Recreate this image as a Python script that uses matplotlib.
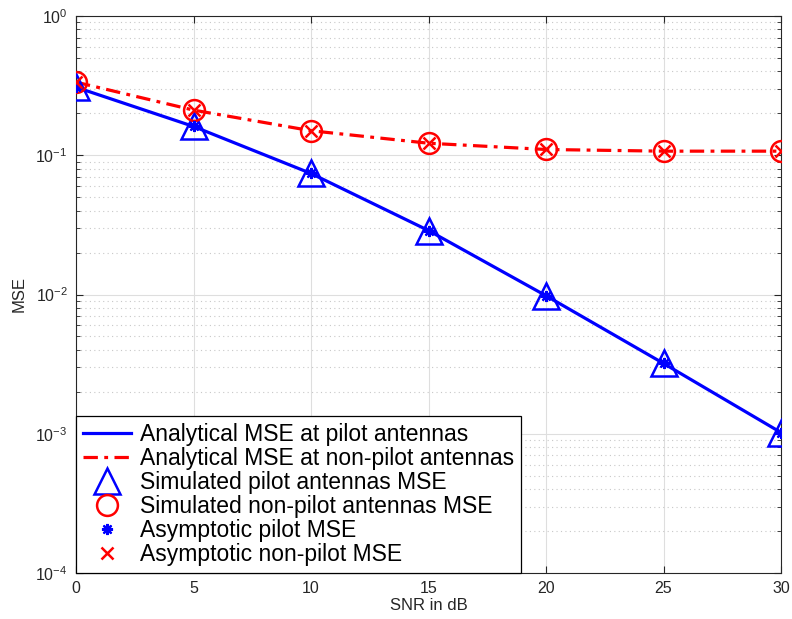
import numpy as np
import matplotlib
matplotlib.use("Agg")
import matplotlib.pyplot as plt

# =====================================================
# DATA
# =====================================================

snr_db = [0, 5, 10, 15, 20, 25, 30]

mse_pilot = [0.308, 0.161, 0.074, 0.0288, 0.0098, 0.0032, 0.00102]
mse_nonpilot = [0.335, 0.211, 0.150, 0.122, 0.110, 0.107, 0.107]

# simulated / asymptotic points sit on the analytical curves
sim_pilot = mse_pilot
sim_nonpilot = mse_nonpilot
asym_pilot = mse_pilot
asym_nonpilot = mse_nonpilot

labels = [
    "Analytical MSE at pilot antennas",
    "Analytical MSE at non-pilot antennas",
    "Simulated pilot antennas MSE",
    "Simulated non-pilot antennas MSE",
    "Asymptotic pilot MSE",
    "Asymptotic non-pilot MSE",
]

# =====================================================
# PLOT
# =====================================================

plt.rcParams["font.family"] = ["Liberation Sans", "DejaVu Sans"]

fig = plt.figure(figsize=(7.92, 6.19), dpi=100)
ax = fig.add_axes([76 / 792, 1 - 573 / 619, (781 - 76) / 792, (573 - 16) / 619])

ax.semilogy(snr_db, mse_pilot, color="blue", lw=2.3, label=labels[0], zorder=3)
ax.semilogy(snr_db, mse_nonpilot, color="red", lw=2.3, ls=(0, (4.5, 2, 1.2, 2)),
            label=labels[1], zorder=3)
ax.semilogy(snr_db, sim_pilot, ls="none", marker="^", ms=18.5, mfc="none",
            mec="blue", mew=1.8, label=labels[2], zorder=4)
ax.semilogy(snr_db, sim_nonpilot, ls="none", marker="o", ms=15, mfc="none",
            mec="red", mew=1.8, label=labels[3], zorder=4)
ax.semilogy(snr_db, asym_pilot, ls="none", marker=(8, 2, 0), ms=8, mew=1.6,
            color="blue", label=labels[4], zorder=5)
ax.semilogy(snr_db, asym_nonpilot, ls="none", marker="x", ms=9, mew=1.8,
            color="red", label=labels[5], zorder=5)

ax.set_xlim(0, 30)
ax.set_ylim(1e-4, 1)
ax.set_xticks([0, 5, 10, 15, 20, 25, 30])

ax.grid(True, which="major", color="#dedede", lw=0.8)
ax.grid(True, which="minor", color="#c8c8c8", lw=0.8, ls=(0, (1, 3)))
ax.set_axisbelow(True)

ax.tick_params(which="both", direction="in", top=True, right=True,
               labelsize=11.5, colors="#262626", pad=6)
ax.tick_params(which="major", length=5)
ax.tick_params(which="minor", length=3)
for s in ax.spines.values():
    s.set_color("#262626")
    s.set_linewidth(0.8)

ax.set_xlabel("SNR in dB", fontsize=12, color="#262626", labelpad=1)
ax.set_ylabel("MSE", fontsize=12, color="#262626", labelpad=6)

leg = ax.legend(loc="lower left", fontsize=16.5, frameon=True, fancybox=False,
                edgecolor="black", framealpha=1, borderaxespad=0,
                handlelength=2.1, handletextpad=0.4, labelspacing=0.045,
                borderpad=0.3)
leg.get_frame().set_linewidth(0.9)

plt.savefig("out.png", dpi=100)
